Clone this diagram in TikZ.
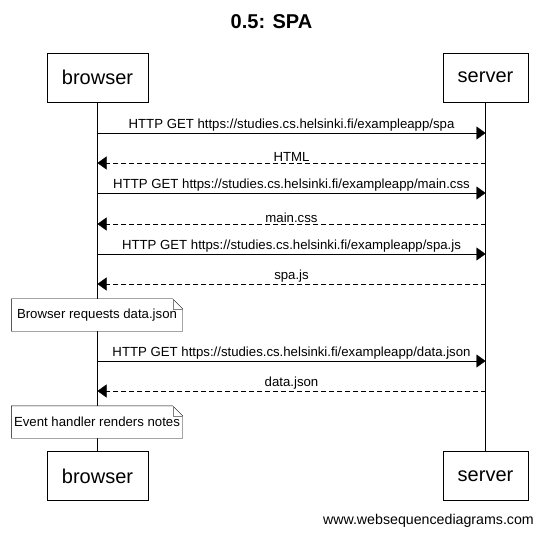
\documentclass[tikz,border=0pt]{standalone}
\usepackage{fontspec}
\setmainfont{Liberation Sans}
\usetikzlibrary{arrows.meta}
\begin{document}
\begin{tikzpicture}[x=1pt,y=-1pt,
        actor/.style={draw,fill=white,font=\fontsize{20}{24}\selectfont,minimum height=49pt,inner sep=0pt},
        msg/.style={-{Triangle[length=9pt,width=13pt]}},
        reply/.style={msg,dashed,dash pattern=on 5pt off 3pt},
        lbl/.style={midway,above,inner sep=1.5pt,font=\fontsize{13.2}{15}\selectfont},
        notebox/.style={minimum width=171pt,minimum height=32pt,inner sep=0pt}]
        \useasboundingbox (0,0) rectangle (543,534);
        %% title
        \node[font=\bfseries\fontsize{20}{24}\selectfont] (title) at (271.5,22) {0.5: SPA};
        %% actors and lifelines
        \node[actor,minimum width=101pt] (btop) at (97.5,77.5) {browser};
        \node[actor,minimum width=85pt] (stop) at (485.5,77.5) {server};
        \node[actor,minimum width=101pt] (bbot) at (97.5,476) {browser};
        \node[actor,minimum width=85pt] (sbot) at (485.5,476) {server};
        \draw (btop) -- (bbot);
        \draw (stop) -- (sbot);
        %% message rows
        \foreach \i/\y in {1/133,2/163,3/193,4/224,5/254,6/284,7/361,8/391} {
            \coordinate (b\i) at (97.5,\y);
            \coordinate (s\i) at (485.5,\y);
        }
        \draw[msg] (b1) -- (s1) node[lbl] {HTTP GET https://studies.cs.helsinki.fi/exampleapp/spa};
        \draw[reply] (s2) -- (b2) node[lbl] {HTML};
        \draw[msg] (b3) -- (s3) node[lbl] {HTTP GET https://studies.cs.helsinki.fi/exampleapp/main.css};
        \draw[reply] (s4) -- (b4) node[lbl] {main.css};
        \draw[msg] (b5) -- (s5) node[lbl] {HTTP GET https://studies.cs.helsinki.fi/exampleapp/spa.js};
        \draw[reply] (s6) -- (b6) node[lbl] {spa.js};
        \draw[msg] (b7) -- (s7) node[lbl] {HTTP GET https://studies.cs.helsinki.fi/exampleapp/data.json};
        \draw[reply] (s8) -- (b8) node[lbl] {data.json};
        %% notes
        \foreach \n/\y/\txt in {note1/315/Browser requests data.json,note2/422/Event handler renders notes} {
            \node[notebox] (\n) at (97,\y) {};
            \draw[fill=white] (\n.north west) -- ([xshift=-10pt]\n.north east) -- ([yshift=-10pt]\n.north east)
                -- (\n.south east) -- (\n.south west) -- cycle;
            \draw[gray] ([xshift=-10pt]\n.north east) -- ([xshift=-10pt,yshift=-10pt]\n.north east) -- ([yshift=-10pt]\n.north east);
            \node[font=\fontsize{13.2}{15}\selectfont] at (\n) {\txt};
        }
        %% footer
        \node[anchor=base east,font=\fontsize{14.2}{16}\selectfont,inner sep=0pt] (footer) at (534,524) {www.websequencediagrams.com};
    \end{tikzpicture}
\end{document}
